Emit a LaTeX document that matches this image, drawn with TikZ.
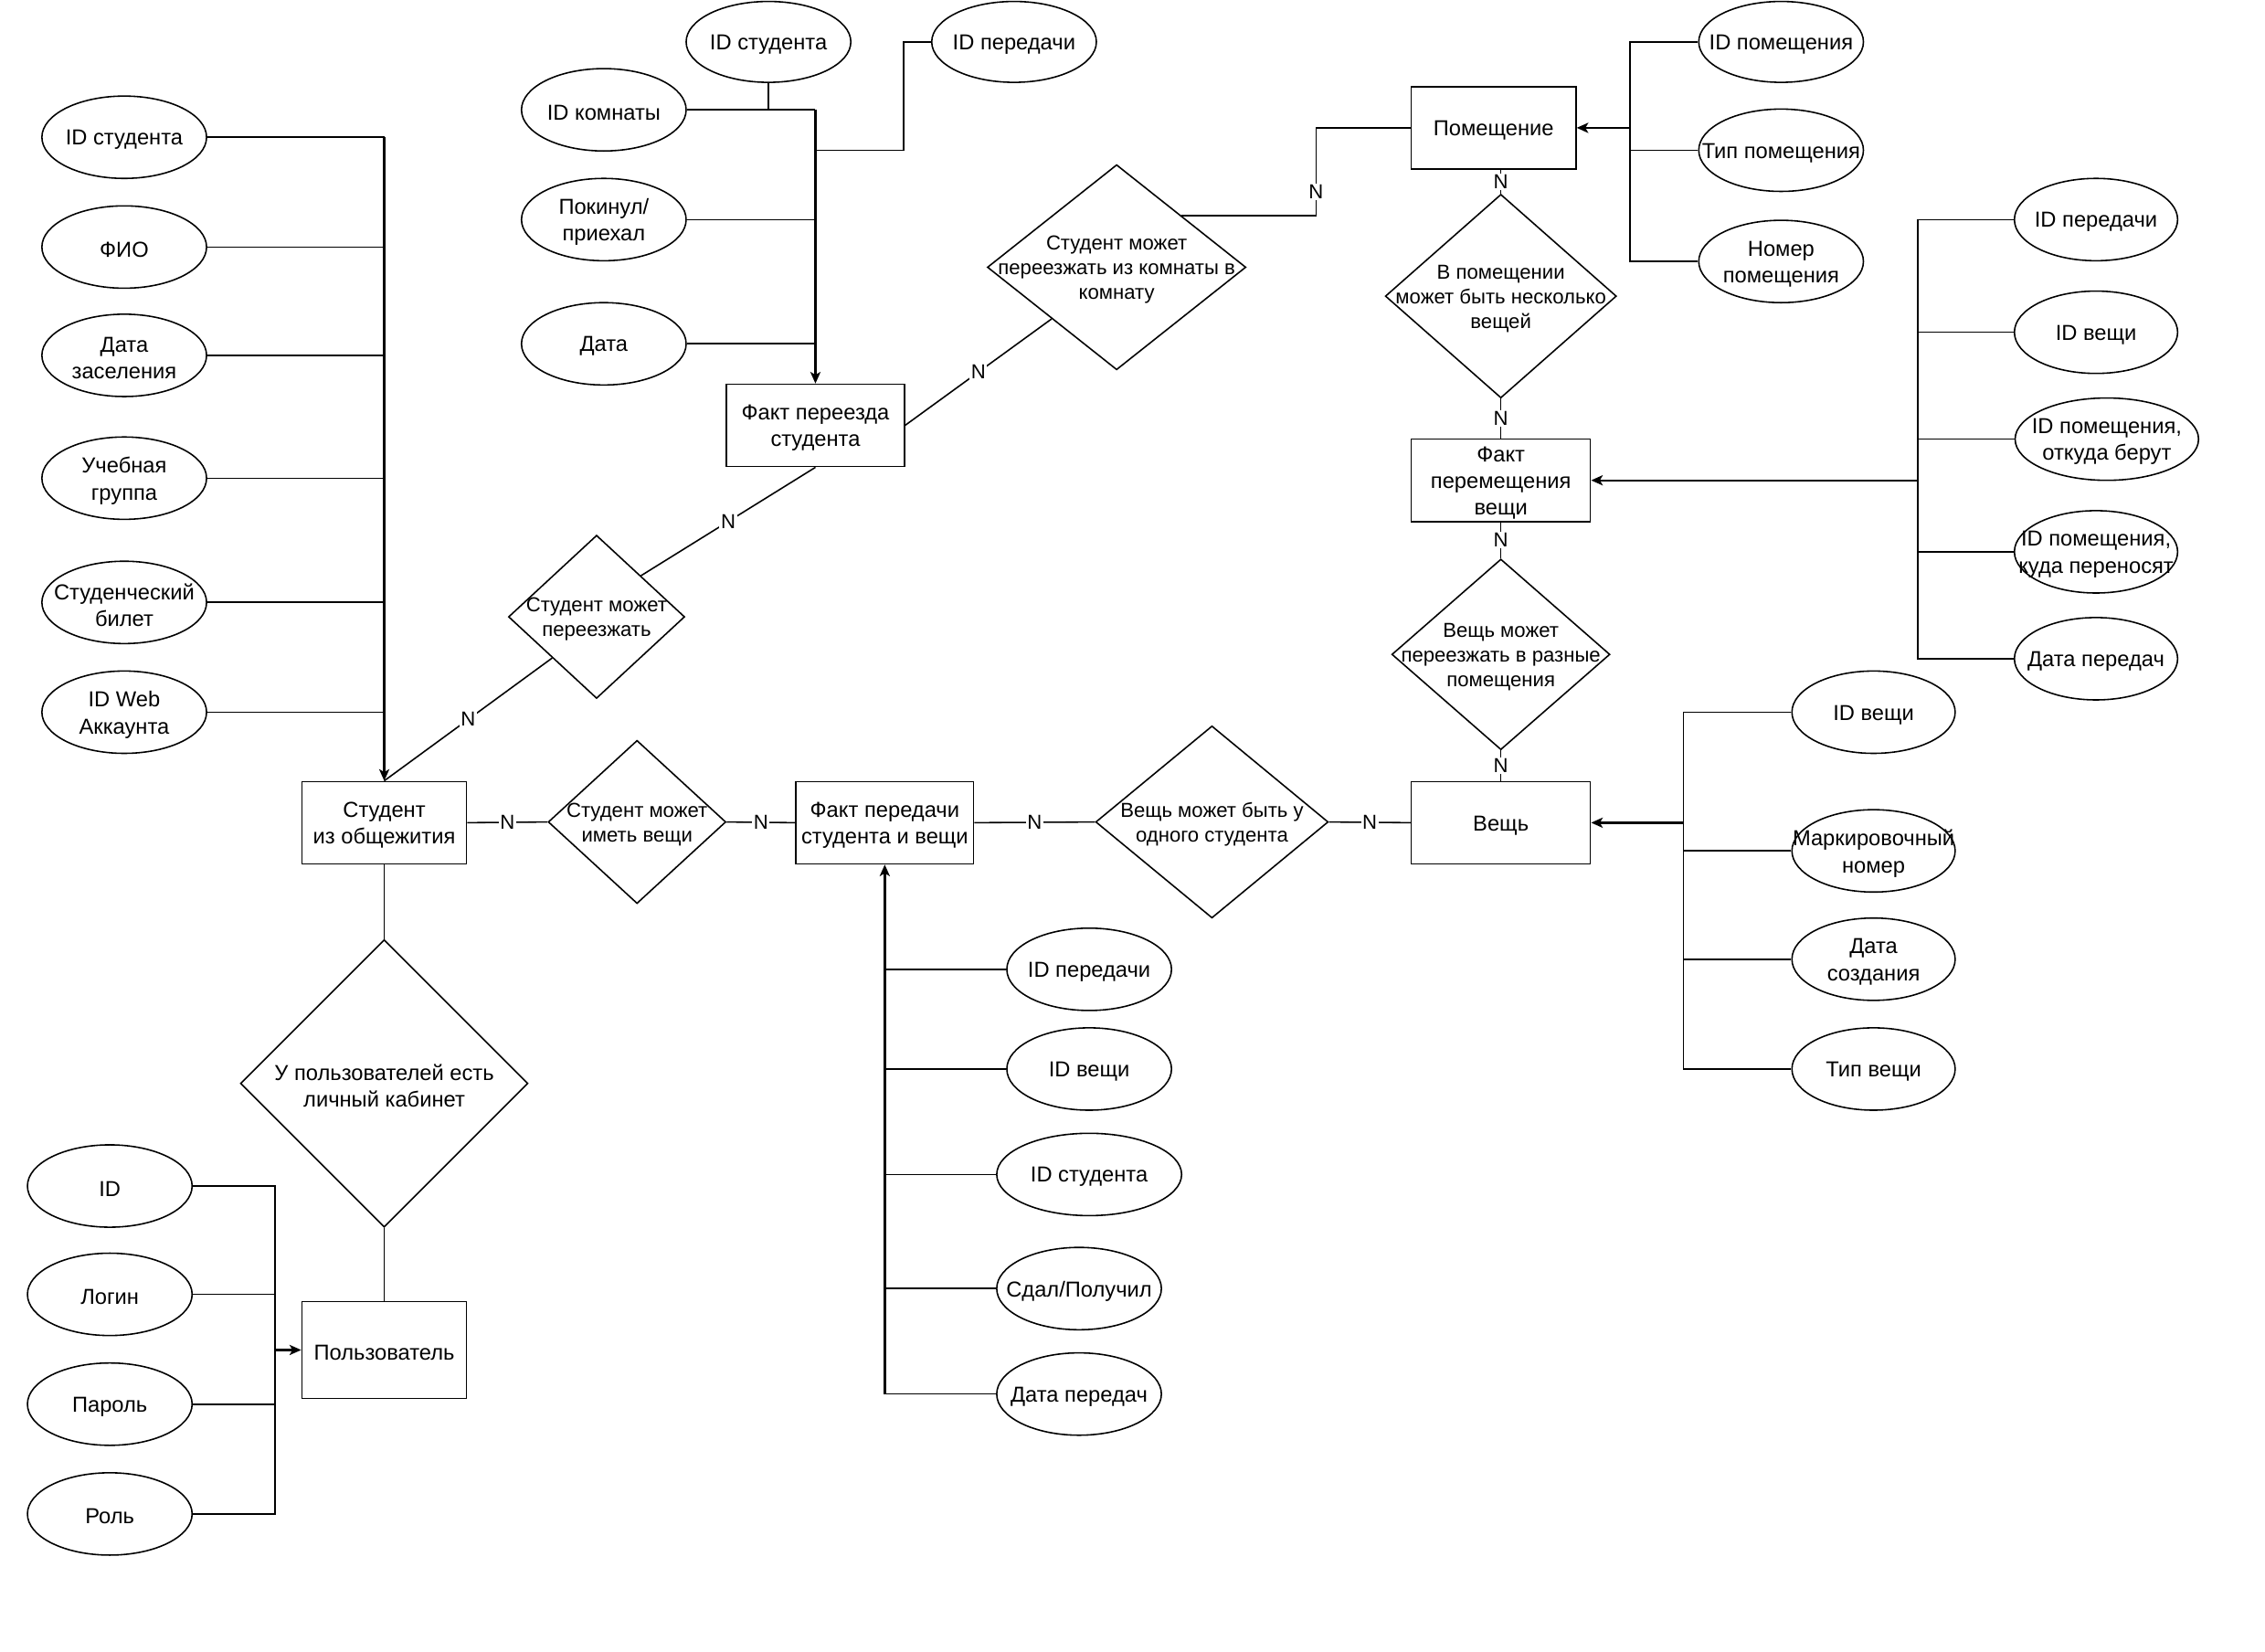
\documentclass[tikz,border=0pt]{standalone}
\usepackage{fontspec}
\setmainfont{Liberation Sans}
\usetikzlibrary{shapes.geometric,arrows.meta,calc}
\begin{document}
\begin{tikzpicture}[x=1pt,y=-1pt,
  every node/.style={font=\fontsize{15}{18.5}\selectfont},
  ent/.style={draw, line width=1pt, rectangle, inner sep=0pt, minimum height=57pt},
  attr/.style={draw, line width=1pt, ellipse, inner sep=0pt, minimum width=114pt, minimum height=57pt},
  rel/.style={draw, line width=1pt, diamond, inner sep=0pt},
  lab/.style={align=center, inner sep=0pt, yshift=-1.8pt},
  dlab/.style={align=center, inner sep=0pt, yshift=-1.8pt, font=\fontsize{14}{17}\selectfont},
  ln/.style={line width=1pt},
  trunk/.style={line width=1.5pt},
  arr/.style={-{Stealth[length=8pt,width=7pt,inset=2pt]}},
  nl/.style={fill=white, inner sep=1pt, font=\fontsize{14}{16}\selectfont},
]
\fill[white] (0,0) rectangle (1568,1143);
\useasboundingbox (0,0) rectangle (1568,1143);

% ---------- entities ----------
\node[ent, minimum width=114pt] (stud) at (266,569.5) {};
\node[lab] (studt) at (stud) {Студент\\из общежития};
\node[ent, minimum width=123pt] (fp) at (564.5,294.5) {};
\node[lab] (fpt) at (fp) {Факт переезда\\студента};
\node[ent, minimum width=114pt] (pom) at (1034,88.5) {};
\node[lab] (pomt) at (pom) {Помещение};
\node[ent, minimum width=124pt] (fm) at (1039,332.5) {};
\node[lab] (fmt) at (fm) {Факт\\перемещения\\вещи};
\node[ent, minimum width=124pt] (vesh) at (1039,569.5) {};
\node[lab] (vesht) at (vesh) {Вещь};
\node[ent, minimum width=123pt] (ft) at (612.5,569.5) {};
\node[lab] (ftt) at (ft) {Факт передачи\\студента и вещи};
\node[ent, minimum width=114pt, minimum height=67pt] (usr) at (266,934.5) {};
\node[lab] (usrt) at (usr) {Пользователь};

% ---------- relationships ----------
\node[rel, minimum width=122pt, minimum height=113pt] (d1) at (413,427) {};
\node[dlab] (d1t) at (d1) {Студент может\\переезжать};
\node[rel, minimum width=179pt, minimum height=142pt] (d2) at (773,185) {};
\node[dlab] (d2t) at (d2) {Студент может\\переезжать из комнаты в\\комнату};
\node[rel, minimum width=160pt, minimum height=141pt] (d3) at (1039,205) {};
\node[dlab] (d3t) at (d3) {В помещении\\может быть несколько\\вещей};
\node[rel, minimum width=151pt, minimum height=132pt] (d4) at (1039,453) {};
\node[dlab] (d4t) at (d4) {Вещь может\\переезжать в разные\\помещения};
\node[rel, minimum width=161pt, minimum height=133pt] (d5) at (839,569) {};
\node[dlab] (d5t) at (d5) {Вещь может быть у\\одного студента};
\node[rel, minimum width=123pt, minimum height=113pt] (d6) at (441,569) {};
\node[dlab] (d6t) at (d6) {Студент может\\иметь вещи};
\node[rel, minimum width=199pt, minimum height=199pt] (d7) at (266,750) {};
\node[lab] (d7t) at (d7) {У пользователей есть\\личный кабинет};

% ---------- student attributes ----------
\node[attr] (s1) at (86,95) {};  \node[lab] (s1t) at (s1) {ID студента};
\node[attr] (s2) at (86,171) {}; \node[lab] (s2t) at (s2) {ФИО};
\node[attr] (s3) at (86,246) {}; \node[lab] (s3t) at (s3) {Дата\\заселения};
\node[attr] (s4) at (86,331) {}; \node[lab] (s4t) at (s4) {Учебная\\группа};
\node[attr] (s5) at (86,417) {}; \node[lab] (s5t) at (s5) {Студенческий\\билет};
\node[attr] (s6) at (86,493) {}; \node[lab] (s6t) at (s6) {ID Web\\Аккаунта};

% ---------- move fact attributes ----------
\node[attr, minimum height=56pt] (m1) at (532,29) {}; \node[lab] (m1t) at (m1) {ID студента};
\node[attr] (m2) at (418,76) {};  \node[lab] (m2t) at (m2) {ID комнаты};
\node[attr] (m3) at (418,152) {}; \node[lab] (m3t) at (m3) {Покинул/\\приехал};
\node[attr] (m4) at (418,238) {}; \node[lab] (m4t) at (m4) {Дата};
\node[attr, minimum height=56pt] (m5) at (702,29) {}; \node[lab] (m5t) at (m5) {ID передачи};

% ---------- room attributes ----------
\node[attr, minimum height=56pt] (p1) at (1233,29) {}; \node[lab] (p1t) at (p1) {ID помещения};
\node[attr] (p2) at (1233,104) {}; \node[lab] (p2t) at (p2) {Тип помещения};
\node[attr] (p3) at (1233,181) {}; \node[lab] (p3t) at (p3) {Номер\\помещения};

% ---------- item move attributes ----------
\node[attr, minimum width=113pt] (r1) at (1451,152) {}; \node[lab] (r1t) at (r1) {ID передачи};
\node[attr, minimum width=113pt] (r2) at (1451,230) {}; \node[lab] (r2t) at (r2) {ID вещи};
\node[attr, minimum width=127pt] (r3) at (1458.5,304) {}; \node[lab] (r3t) at (r3) {ID помещения,\\откуда берут};
\node[attr, minimum width=113pt] (r4) at (1451,382) {}; \node[lab] (r4t) at (r4) {ID помещения,\\куда переносят};
\node[attr, minimum width=113pt] (r5) at (1451,456) {}; \node[lab] (r5t) at (r5) {Дата передач};

% ---------- item attributes ----------
\node[attr, minimum width=113pt] (v1) at (1297,493) {}; \node[lab] (v1t) at (v1) {ID вещи};
\node[attr, minimum width=113pt] (v2) at (1297,589) {}; \node[lab] (v2t) at (v2) {Маркировочный\\номер};
\node[attr, minimum width=113pt] (v3) at (1297,664) {}; \node[lab] (v3t) at (v3) {Дата\\создания};
\node[attr, minimum width=113pt] (v4) at (1297,740) {}; \node[lab] (v4t) at (v4) {Тип вещи};

% ---------- transfer attributes ----------
\node[attr] (t1) at (754,671) {}; \node[lab] (t1t) at (t1) {ID передачи};
\node[attr] (t2) at (754,740) {}; \node[lab] (t2t) at (t2) {ID вещи};
\node[attr, minimum width=128pt] (t3) at (754,813) {}; \node[lab] (t3t) at (t3) {ID студента};
\node[attr] (t4) at (747,892) {}; \node[lab] (t4t) at (t4) {Сдал/Получил};
\node[attr] (t5) at (747,965) {}; \node[lab] (t5t) at (t5) {Дата передач};

% ---------- user attributes ----------
\node[attr] (u1) at (76,821) {};  \node[lab] (u1t) at (u1) {ID};
\node[attr] (u2) at (76,896) {};  \node[lab] (u2t) at (u2) {Логин};
\node[attr] (u3) at (76,972) {};  \node[lab] (u3t) at (u3) {Пароль};
\node[attr] (u4) at (76,1048) {}; \node[lab] (u4t) at (u4) {Роль};

% ---------- attribute connectors ----------
\foreach \i in {1,...,6} \draw[ln] (s\i.east) -- (s\i.east -| stud.north);
\draw[trunk,arr] (s1.east -| stud.north) -- (stud.north);

\draw[ln] (m1.south) |- (m2.east -| fp.north);
\foreach \i in {2,3,4} \draw[ln] (m\i.east) -- (m\i.east -| fp.north);
\draw[ln] (m5.west) -- ++(-19,0) |- (fp.north |- 0,104);
\draw[trunk,arr] (m2.east -| fp.north) -- (fp.north);

\coordinate (pj) at ($(p1.west)+(-47,0)$);
\draw[ln] (p1.west) -- (pj) -- (pj |- p3.west) -- (p3.west);
\draw[ln] (p2.west) -- (p2.west -| pj);
\draw[trunk,arr] (pom.east -| pj) -- (pom.east);

\coordinate (rj) at ($(r1.west)+(-66.5,0)$);
\draw[ln] (r1.west) -- (rj) -- (rj |- r5.west) -- (r5.west);
\foreach \i in {2,3,4} \draw[ln] (r\i.west) -- (r\i.west -| rj);
\draw[trunk,arr] (fm.east -| rj) -- (fm.east);

\coordinate (vj) at ($(v1.west)+(-74.5,0)$);
\draw[ln] (v1.west) -- (vj) -- (vj |- v4.west) -- (v4.west);
\foreach \i in {2,3} \draw[ln] (v\i.west) -- (v\i.west -| vj);
\draw[trunk,arr] (vesh.east -| vj) -- (vesh.east);

\foreach \i in {1,...,5} \draw[ln] (t\i.west) -- (t\i.west -| ft.south);
\draw[trunk,arr] (t5.west -| ft.south) -- (ft.south);

\coordinate (uj) at ($(u1.east)+(57,0)$);
\draw[ln] (u1.east) -- (uj) -- (uj |- u4.east) -- (u4.east);
\foreach \i in {2,3} \draw[ln] (u\i.east) -- (u\i.east -| uj);
\draw[trunk,arr] (usr.west -| uj) -- (usr.west);

% ---------- relationship connectors ----------
\draw[ln] (stud.south) -- (d7.north);
\draw[ln] (d7.south) -- (usr.north);
\draw[ln] (stud.east) -- node[nl] (n1) {N} (d6.west);
\draw[ln] (d6.east) -- node[nl] (n2) {N} (ft.west);
\draw[ln] (ft.east) -- node[nl] (n3) {N} (d5.west);
\draw[ln] (d5.east) -- node[nl] (n4) {N} (vesh.west);
\draw[ln] (vesh.north) -- node[nl] (n5) {N} (d4.south);
\draw[ln] (d4.north) -- node[nl] (n6) {N} (fm.south);
\draw[ln] (fm.north) -- node[nl] (n7) {N} (d3.south);
\draw[ln] (d3.north) -- node[nl] (n8) {N} (d3.north |- pom.south);
\draw[ln] (stud.north) -- node[nl] (n9) {N} ($(d1.west)!0.5!(d1.south)$);
\draw[ln] ($(d1.north)!0.5!(d1.east)$) -- node[nl] (n10) {N} (fp.south);
\draw[ln] (fp.east) -- node[nl] (n11) {N} ($(d2.west)!0.5!(d2.south)$);
\draw[ln] ($(d2.north)!0.5!(d2.east)$) -- ++(93,0) |- node[nl, pos=0.135] (n12) {N} (pom.west);
\end{tikzpicture}
\end{document}
